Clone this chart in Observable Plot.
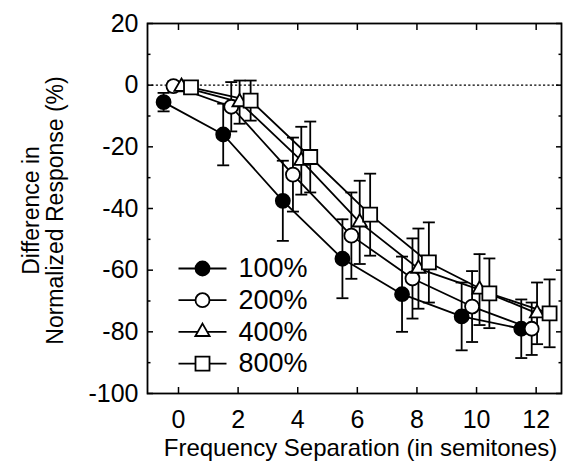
<!DOCTYPE html>
<html>
<head>
<meta charset="utf-8">
<script src="https://cdn.jsdelivr.net/npm/d3@7"></script>
<script src="https://cdn.jsdelivr.net/npm/@observablehq/plot@0.6"></script>
<style>
  html, body { margin: 0; padding: 0; background: white; }
</style>
</head>
<body>
<div id="chart"></div>
<script>
// ---- data ----
const seriesNames = ["100%", "200%", "400%", "800%"];
const xTicks = [0, 2, 4, 6, 8, 10, 12];
const yTicks = [20, 0, -20, -40, -60, -80, -100];
const yMinorTicks = [10, -10, -30, -50, -70, -90];

// x positions (semitones, with the small horizontal offsets used in the figure)
const x100 = [-0.5, 1.5, 3.5, 5.5, 7.5, 9.5, 11.5];
const x200 = [-0.17, 1.77, 3.84, 5.8, 7.85, 9.85, 11.85];
const x400 = [0.1, 2.05, 4.12, 6.08, 8.05, 10.1, 12.03];
const x800 = [0.42, 2.42, 4.42, 6.43, 8.4, 10.43, 12.45];

// mean difference (%)
const y100 = [-5.5, -16, -37.5, -56.3, -67.8, -75, -79];
const y200 = [-0.3, -7, -29, -48.8, -62.7, -71.8, -79];
const y400 = [-0.5, -5.5, -24.5, -44.5, -59.5, -66.3, -74];
const y800 = [-0.7, -5, -23.3, -42, -57.5, -67.5, -74];

// error bar half-lengths (%)
const e100 = [3, 10, 13, 12.8, 12.2, 11, 9.5];
const e200 = [1.5, 8, 12, 14, 13, 11.5, 8.5];
const e400 = [1.5, 7, 11, 13.5, 13, 11.5, 10];
const e800 = [1.5, 6.5, 11.5, 13.3, 13, 11.3, 11];

const xTitle = "Frequency Separation (in semitones)";
const yTitle = "Difference in\nNormalized Response (%)";

// ---- build table ----
const seriesTable = [
  {name: seriesNames[0], xs: x100, ys: y100, es: e100},
  {name: seriesNames[1], xs: x200, ys: y200, es: e200},
  {name: seriesNames[2], xs: x400, ys: y400, es: e400},
  {name: seriesNames[3], xs: x800, ys: y800, es: e800}
];
const rows = seriesTable.flatMap(s => s.xs.map((x, i) => ({
  series: s.name, x, y: s.ys[i], lo: s.ys[i] - s.es[i], hi: s.ys[i] + s.es[i]
})));

// marker styles
const markerStyle = {
  "100%": {symbol: "circle", r: 7, fill: "black"},
  "200%": {symbol: "circle", r: 7, fill: "white"},
  "400%": {symbol: "triangle", r: 5.3, fill: "white"},
  "800%": {symbol: "square", r: 7.9, fill: "white"}
};

// horizontal bar symbol (error-bar caps and legend lines)
const hbar = {
  draw(ctx, size) {
    const r = Math.sqrt(size / Math.PI);
    ctx.moveTo(-r, 0);
    ctx.lineTo(r, 0);
  }
};

const SW = 1.8;
const marks = [];

// zero reference line
marks.push(Plot.ruleY([0], {stroke: "black", strokeWidth: 1.4, strokeDasharray: "2.2,2.2"}));
// series lines
marks.push(Plot.line(rows, {x: "x", y: "y", z: "series", stroke: "black", strokeWidth: SW}));
// error bars
marks.push(Plot.ruleX(rows, {x: "x", y1: "lo", y2: "hi", stroke: "black", strokeWidth: SW}));
marks.push(Plot.dot(rows, {x: "x", y: "hi", symbol: hbar, r: 6, stroke: "black", fill: "none", strokeWidth: SW}));
marks.push(Plot.dot(rows, {x: "x", y: "lo", symbol: hbar, r: 6, stroke: "black", fill: "none", strokeWidth: SW}));
// markers
for (const name of seriesNames) {
  const st = markerStyle[name];
  marks.push(Plot.dot(rows.filter(d => d.series === name), {
    x: "x", y: "y", symbol: st.symbol, r: st.r, fill: st.fill, stroke: "black", strokeWidth: SW
  }));
}

// legend (inside the plot, lower left)
seriesNames.forEach((name, i) => {
  const st = markerStyle[name];
  const dy = -125 + i * 31.7;
  marks.push(Plot.dot([name], {frameAnchor: "bottom-left", dx: 55, dy, symbol: hbar, r: 24, stroke: "black", fill: "none", strokeWidth: SW}));
  marks.push(Plot.dot([name], {frameAnchor: "bottom-left", dx: 55, dy, symbol: st.symbol, r: st.r, fill: st.fill, stroke: "black", strokeWidth: SW}));
  marks.push(Plot.text([name], {frameAnchor: "bottom-left", dx: 91, dy, text: d => d, textAnchor: "start", lineAnchor: "middle", fontSize: 27, fill: "black"}));
});

// frame
marks.push(Plot.frame({stroke: "black", strokeWidth: 1.8}));

// inward ticks (all four sides)
const blank = () => "";
marks.push(Plot.axisX(xTicks, {anchor: "bottom", tickSize: 6, dy: -6, tickFormat: blank, label: null, strokeWidth: 1.5}));
marks.push(Plot.axisX(xTicks, {anchor: "top", tickSize: 6, dy: 6, tickFormat: blank, label: null, strokeWidth: 1.5}));
marks.push(Plot.axisY(yTicks, {anchor: "left", tickSize: 6, dx: 6, tickFormat: blank, label: null, strokeWidth: 1.5}));
marks.push(Plot.axisY(yMinorTicks, {anchor: "left", tickSize: 3.5, dx: 3.5, tickFormat: blank, label: null, strokeWidth: 1.5}));
marks.push(Plot.axisY(yTicks, {anchor: "right", tickSize: 6, dx: -6, tickFormat: blank, label: null, strokeWidth: 1.5}));
marks.push(Plot.axisY(yMinorTicks, {anchor: "right", tickSize: 3.5, dx: -3.5, tickFormat: blank, label: null, strokeWidth: 1.5}));

// tick labels
marks.push(Plot.axisX(xTicks, {anchor: "bottom", tickSize: 0, tickPadding: 17, fontSize: 25, label: null, tickFormat: d => String(d)}));
marks.push(Plot.axisY(yTicks, {anchor: "left", tickSize: 0, tickPadding: 9, fontSize: 25, label: null, tickFormat: d => String(d)}));

// axis titles
marks.push(Plot.text([xTitle], {frameAnchor: "bottom", text: d => d, dx: 6, dy: 55, fontSize: 24, lineAnchor: "middle", fill: "black"}));
marks.push(Plot.text([yTitle], {frameAnchor: "left", text: d => d, dx: -104, dy: 2, rotate: -90, fontSize: 23, lineHeight: 1.05, lineAnchor: "middle", textAnchor: "middle", fill: "black"}));

const chart = Plot.plot({
  width: 567,
  height: 467,
  marginLeft: 147,
  marginRight: 6,
  marginTop: 23,
  marginBottom: 74,
  x: {domain: [-1.04, 12.85]},
  y: {domain: [-100, 20]},
  style: {fontFamily: "'Liberation Sans', Arial, Helvetica, sans-serif", color: "black", background: "white"},
  marks
});
document.getElementById("chart").appendChild(chart);
</script>
</body>
</html>
